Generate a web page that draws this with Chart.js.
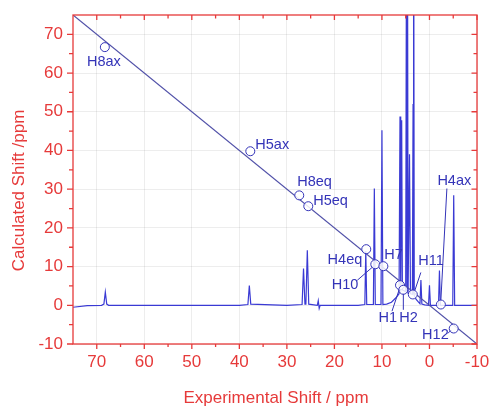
<!DOCTYPE html>
<html><head><meta charset="utf-8">
<script src="https://cdn.jsdelivr.net/npm/chart.js@4.4.1/dist/chart.umd.min.js"></script>
<style>html,body{margin:0;padding:0;background:#fff}#wrap{width:491px;height:407px}</style>
</head><body><div id="wrap"><canvas id="c" width="491" height="407"></canvas></div>
<script>
// ---- data ----
const xTicks = [70, 60, 50, 40, 30, 20, 10, 0, -10];
const xMinor = [65, 55, 45, 35, 25, 15, 5, -5];
const yTicks = [-10, 0, 10, 20, 30, 40, 50, 60, 70];
const yMinor = [-5, 5, 15, 25, 35, 45, 55, 65];
const xTitle = 'Experimental Shift / ppm';
const yTitle = 'Calculated Shift /ppm';

// spectrum (ppm, intensity on calc-shift scale)
const specX = [75, 72, 69, 68.5, 68.2, 67.9, 67.5, 60, 50, 40, 38.2, 37.9, 37.6, 30, 26.8, 26.5, 26.2, 26.0, 25.7, 25.4,
  23.6, 23.4, 23.2, 23.0, 20, 15, 13.6, 13.4, 13.2, 11.8, 11.6, 11.4, 10.2, 10.0, 9.8, 9, 8.0, 7.0, 6.4, 6.2, 6.05,
  5.85, 5.7, 5.0, 4.8, 4.72, 4.65, 4.5, 4.2, 4.0, 3.6, 3.45, 3.38, 3.3, 3.2, 2.8, 2.3, 2.0, 1.8, 1.6, 1.0, 0.2, 0.0,
  -0.2, -1.0, -1.9, -2.1, -2.3, -4.9, -5.1, -5.3, -10];
const specY = [-0.5, -0.1, 0, 0.3, 3.4, 0.3, 0, 0, 0, 0, 0.2, 5.1, 0.3, 0, 0.2, 9.5, 0.3, 0.3, 14.2, 0.3,
  0, 1.2, -0.8, 0, 0, 0, 0.2, 14, 0.2, 0.2, 30.2, 0.2, 0.2, 45.2, 0.2, 0.3, 0.8, 2.0, 3.0, 48.8, 3.5,
  47.8, 4.0, 3.5, 120, 3.5, 120, 3.0, 39, 3.0, 2.8, 52, 2.8, 120, 2.5, 1.5, 0.8, 0.4, 6.5, 0.3, 0.1, 0, 5.2,
  0, 0, 0, 9, 0, 0, 28.4, 0, 0];

// y = x reference line
const fitX = [75, -10];
const fitY = [75, -10];

// assigned protons
const atomLabels = ['H8ax', 'H5ax', 'H8eq', 'H5eq', 'H4eq', 'H10', 'H7', 'H1', 'H2', 'H11', 'H4ax', 'H12'];
const expShift  = [68.3, 37.7, 27.4, 25.5, 13.3, 11.4, 9.7, 6.2, 5.5, 3.5, -2.4, -5.1];
const calcShift = [66.7, 39.8, 28.4, 25.6, 14.5, 10.6, 10.1, 5.2, 4.0, 2.8, 0.2, -6.0];

// ---- styling / layout (pixel offsets of labels relative to their circle) ----
const labelLayout = [
  {dx: -1, dy: 15, align: 'center'},
  {dx: 5, dy: -6, align: 'left'},
  {dx: -2, dy: -13, align: 'left'},
  {dx: 5, dy: -5, align: 'left'},
  {dx: -4, dy: 11, align: 'right'},
  {dx: -17, dy: 21, align: 'right', leader: [-18, 16, -3, 3]},
  {dx: 1, dy: -11, align: 'left'},
  {dx: -3, dy: 33, align: 'right', leader: [-8, 26, -1, 5]},
  {dx: -4, dy: 28, align: 'left', leader: [0, 20, 0, 4]},
  {dx: 5.5, dy: -33, align: 'left', leader: [8, -22, 2, -4]},
  {dx: -3.5, dy: -124, align: 'left', leader: [6, -116, 0, -4.5]},
  {dx: -5, dy: 6, align: 'right', leader: [-6, 5, -3, 2]}
];

const RED = '#e63a3a';
const BLUE_TXT = '#3434b8';
const BLUE_SPEC = '#3a3ad4';
const FONT = '"Liberation Sans", Arial, sans-serif';

const framePlugin = {
  id: 'frame',
  afterDatasetsDraw(chart) {
    const {ctx, chartArea: a, scales: {x, y}} = chart;
    ctx.save();
    // labels for atoms
    ctx.font = '14.5px ' + FONT;
    ctx.fillStyle = BLUE_TXT;
    ctx.strokeStyle = BLUE_TXT;
    ctx.lineWidth = 1;
    ctx.textBaseline = 'middle';
    atomLabels.forEach((t, i) => {
      const px = x.getPixelForValue(expShift[i]);
      const py = y.getPixelForValue(calcShift[i]);
      const L = labelLayout[i];
      ctx.textAlign = L.align;
      ctx.fillText(t, px + L.dx, py + L.dy);
      if (L.leader) {
        ctx.beginPath();
        ctx.moveTo(px + L.leader[0], py + L.leader[1]);
        ctx.lineTo(px + L.leader[2], py + L.leader[3]);
        ctx.stroke();
      }
    });
    // frame
    ctx.strokeStyle = RED;
    ctx.lineWidth = 1.3;
    ctx.strokeRect(a.left, a.top, a.right - a.left, a.bottom - a.top);
    ctx.beginPath();
    const xt = (vals, out, inn) => vals.forEach(v => {
      const px = x.getPixelForValue(v);
      ctx.moveTo(px, a.bottom); ctx.lineTo(px, a.bottom + out);
      ctx.moveTo(px, a.top); ctx.lineTo(px, a.top + inn);
    });
    const yt = (vals, out, inn) => vals.forEach(v => {
      const py = y.getPixelForValue(v);
      ctx.moveTo(a.left, py); ctx.lineTo(a.left - out, py);
      ctx.moveTo(a.right, py); ctx.lineTo(a.right - inn, py);
    });
    xt(xTicks, 5, 5); xt(xMinor, 3, 3.5);
    yt(yTicks, 6, 5.5); yt(yMinor, 4, 3.5);
    ctx.stroke();
    // axis titles
    ctx.fillStyle = RED;
    ctx.font = '17px ' + FONT;
    ctx.textAlign = 'center';
    ctx.textBaseline = 'middle';
    ctx.fillText(xTitle, (a.left + a.right) / 2 + 1, a.bottom + 54);
    ctx.translate(19, (a.top + a.bottom) / 2 + 11);
    ctx.rotate(-Math.PI / 2);
    ctx.fillText(yTitle, 0, 0);
    ctx.restore();
  }
};

const gridStyle = {color: 'rgba(0,0,0,0.07)', drawTicks: false, lineWidth: 1};
const noPad = s => { s.paddingLeft = 0; s.paddingRight = 0; s.paddingTop = 0; s.paddingBottom = 0; };

new Chart(document.getElementById('c'), {
  type: 'scatter',
  data: {
    datasets: [
      {
        label: 'assigned',
        data: expShift.map((v, i) => ({x: v, y: calcShift[i]})),
        pointRadius: 4.5,
        pointBorderWidth: 1,
        pointBorderColor: BLUE_TXT,
        pointBackgroundColor: 'rgba(255,255,255,0.85)',
        showLine: false
      },
      {
        label: 'fit',
        data: fitX.map((v, i) => ({x: v, y: fitY[i]})),
        showLine: true,
        borderColor: '#5050a8',
        borderWidth: 1.2,
        pointRadius: 0
      },
      {
        label: 'spectrum',
        data: specX.map((v, i) => ({x: v, y: specY[i]})),
        showLine: true,
        borderColor: BLUE_SPEC,
        borderWidth: 1.2,
        pointRadius: 0,
        tension: 0
      }
    ]
  },
  options: {
    responsive: false,
    animation: false,
    devicePixelRatio: 1,
    layout: {autoPadding: false, padding: {top: 15, right: 14, left: 0, bottom: 0}},
    plugins: {legend: {display: false}, tooltip: {enabled: false}},
    scales: {
      x: {
        type: 'linear', reverse: true, min: -10, max: 75,
        afterBuildTicks: s => { s.ticks = xTicks.map(v => ({value: v})); },
        afterFit: s => { s.height = 63; noPad(s); },
        grid: gridStyle,
        border: {display: false},
        ticks: {color: RED, font: {size: 17, family: FONT}, padding: 8, maxRotation: 0}
      },
      y: {
        type: 'linear', min: -10, max: 75,
        afterBuildTicks: s => { s.ticks = yTicks.map(v => ({value: v})); },
        afterFit: s => { s.width = 73; noPad(s); },
        grid: gridStyle,
        border: {display: false},
        ticks: {color: RED, font: {size: 17, family: FONT}, padding: 10}
      }
    }
  },
  plugins: [framePlugin]
});
</script>
</body></html>
